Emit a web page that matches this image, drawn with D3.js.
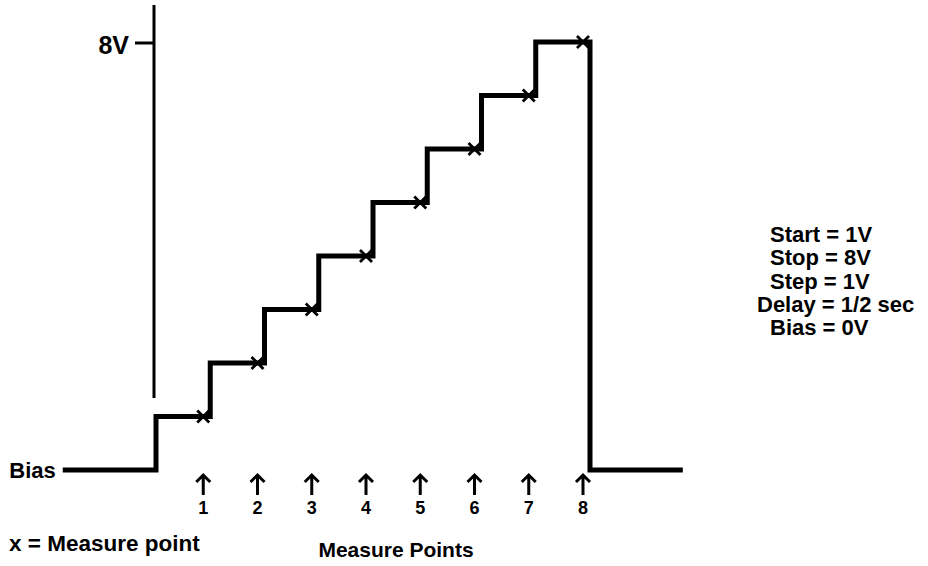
<!DOCTYPE html>
<html>
<head>
<meta charset="utf-8">
<script src="https://cdn.jsdelivr.net/npm/d3@7"></script>
<style>
  body { margin: 0; background: #fff; }
  text { font-family: "Liberation Sans", Arial, sans-serif; font-weight: bold; fill: #000; }
</style>
</head>
<body>
<svg width="928" height="566"></svg>
<script>
// step index of each measure point and the voltage held there
var measurePoints = [1, 2, 3, 4, 5, 6, 7, 8];
var voltages = [1, 2, 3, 4, 5, 6, 7, 8];
var biasLevel = 0;
var leadIn = -1.59, leadOut = 9.84;   // where the bias line starts / ends, in step units
var tickValues = [8];
var tickLabels = ["8V"];
var settings = ["Start = 1V", "Stop = 8V", "Step = 1V", "Delay = 1/2 sec", "Bias = 0V"];

var svg = d3.select("svg");

var x = d3.scaleLinear().domain([0, 8]).range([149, 583]);
var y = d3.scaleLinear().domain([0, 8]).range([470, 42]);
var edge = 7; // step edge sits just after the measure point

// vertical axis with the 8V tick
svg.append("line")
    .attr("x1", x(0) + 5).attr("x2", x(0) + 5)
    .attr("y1", 5).attr("y2", 398)
    .attr("stroke", "#000").attr("stroke-width", 3);

svg.selectAll(".tick")
    .data(tickValues)
    .enter().append("line")
    .attr("x1", x(0) - 14).attr("x2", x(0) + 5)
    .attr("y1", function (d) { return y(d) + 1; })
    .attr("y2", function (d) { return y(d) + 1; })
    .attr("stroke", "#000").attr("stroke-width", 3);

svg.selectAll(".ticklabel")
    .data(tickValues)
    .enter().append("text")
    .attr("x", x(0) - 20)
    .attr("y", function (d) { return y(d) + 12; })
    .attr("text-anchor", "end")
    .style("font-size", "25px")
    .text(function (d, i) { return tickLabels[i]; });

// staircase
var pts = [[x(leadIn), y(biasLevel)], [x(0) + edge, y(biasLevel)]];
for (var i = 0; i < voltages.length; i++) {
    pts.push([x(i) + edge, y(voltages[i])]);
    pts.push([x(i + 1) + edge, y(voltages[i])]);
}
pts.push([x(8) + edge, y(biasLevel)]);
pts.push([x(leadOut), y(biasLevel)]);

svg.append("path")
    .attr("d", d3.line()(pts))
    .attr("fill", "none")
    .attr("stroke", "#000")
    .attr("stroke-width", 5)
    .attr("stroke-linejoin", "miter");

// measure marks
svg.selectAll(".mark")
    .data(measurePoints)
    .enter().append("path")
    .attr("d", function (d, i) {
        var cx = x(d), cy = y(voltages[i]), s = 6;
        return "M" + (cx - s) + "," + (cy - s) + "L" + (cx + s) + "," + (cy + s) +
            "M" + (cx - s) + "," + (cy + s) + "L" + (cx + s) + "," + (cy - s);
    })
    .attr("stroke", "#000").attr("stroke-width", 2.8);

// arrows and numbers
svg.selectAll(".arrow")
    .data(measurePoints)
    .enter().append("path")
    .attr("d", function (d) {
        var cx = x(d);
        return "M" + cx + ",495L" + cx + ",475M" + (cx - 7) + ",482L" + cx + ",475L" + (cx + 7) + ",482";
    })
    .attr("fill", "none")
    .attr("stroke", "#000").attr("stroke-width", 3);

svg.selectAll(".num")
    .data(measurePoints)
    .enter().append("text")
    .attr("x", function (d) { return x(d); })
    .attr("y", 514)
    .attr("text-anchor", "middle")
    .style("font-size", "18px")
    .text(function (d) { return d; });

svg.append("text")
    .attr("x", x(leadIn) - 7).attr("y", y(biasLevel) + 8)
    .attr("text-anchor", "end")
    .style("font-size", "22px")
    .text("Bias");

svg.append("text")
    .attr("x", 9).attr("y", 551)
    .style("font-size", "22.5px")
    .text("x = Measure point");

svg.append("text")
    .attr("x", 396).attr("y", 557)
    .attr("text-anchor", "middle")
    .style("font-size", "21px")
    .text("Measure Points");

svg.selectAll(".setting")
    .data(settings)
    .enter().append("text")
    .attr("x", function (d) { return d.indexOf("Delay") === 0 ? 757 : 770; })
    .attr("y", function (d, i) { return 242 + i * 23.3; })
    .style("font-size", "22px")
    .text(function (d) { return d; });
</script>
</body>
</html>
